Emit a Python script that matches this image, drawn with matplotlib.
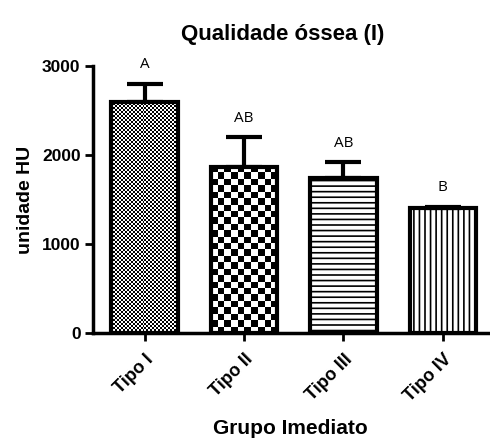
import numpy as np
import matplotlib
matplotlib.use("Agg")
import matplotlib.pyplot as plt

grupos = ["Tipo I", "Tipo II", "Tipo III", "Tipo IV"]
medias = [2600, 1870, 1740, 1400]
erros = [200, 330, 180, 20]
letras = ["A", "AB", "AB", "B"]

plt.rcParams['font.family'] = ['Liberation Sans', 'DejaVu Sans']
plt.rcParams['hatch.linewidth'] = 1.2

fig = plt.figure(figsize=(4.9, 4.38), dpi=100)
ax = fig.add_axes([0.19, 0.24, 0.805, 0.609])

x = np.arange(len(grupos))
bars = ax.bar(x, medias, width=0.67, facecolor="none", edgecolor="black",
              linewidth=3, zorder=3)
ax.errorbar(x, medias, yerr=[np.zeros(len(erros)), erros], fmt="none",
            ecolor="black", elinewidth=3, capsize=13, capthick=3, zorder=2)

# padrões de preenchimento (xadrez)
def xadrez(n_cols, n_rows):
    return (np.add.outer(np.arange(n_rows), np.arange(n_cols)) % 2).astype(float)

for i, cel in [(0, 2.0), (1, 6.5)]:
    b = bars[i]
    x0, w, h = b.get_x(), b.get_width(), b.get_height()
    ncol = int(round(67 / cel))
    nrow = int(round(h * 0.089 / cel))
    ax.imshow(xadrez(ncol, nrow), cmap="gray", extent=[x0, x0 + w, 0, h],
              aspect="auto", interpolation="nearest", clip_path=b, zorder=2.5)
bars[2].set_hatch("---")
bars[3].set_hatch("|||")

for xi, m, e, l in zip(x, medias, erros, letras):
    ax.text(xi, m + e + 130, l, ha="center", va="bottom", fontsize=11,
            family=["Open Sans", "DejaVu Sans"])

ax.set_xlim(-0.52, 3.45)
ax.set_ylim(0, 3000)
ax.set_yticks([0, 1000, 2000, 3000])
ax.set_xticks(x)
ax.set_xticklabels(grupos, rotation=45, ha="right", rotation_mode="anchor",
                   fontweight="bold", fontsize=13)
for t in ax.get_yticklabels():
    t.set_fontweight("bold")
    t.set_fontsize(12.5)
ax.tick_params(width=2, length=6, pad=3)
ax.tick_params(axis="x", pad=7)
for s in ["top", "right"]:
    ax.spines[s].set_visible(False)
for s in ["left", "bottom"]:
    ax.spines[s].set_linewidth(2.5)

ax.set_title("Qualidade óssea (I)", fontsize=16, fontweight="bold", pad=19,
             x=0.48)
ax.set_ylabel("unidade HU", fontsize=14, fontweight="bold", labelpad=6)
ax.set_xlabel("Grupo Imediato", fontsize=15, fontweight="bold", labelpad=10)

fig.savefig("out.png", dpi=100)
